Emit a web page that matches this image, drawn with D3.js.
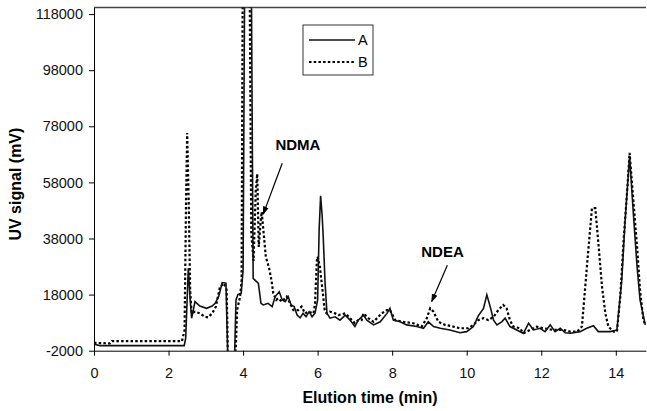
<!DOCTYPE html>
<html>
<head>
<meta charset="utf-8">
<title>UV chromatogram</title>
<script src="https://cdn.jsdelivr.net/npm/d3@7"></script>
<style type="text/css">
body { margin: 0; background: #fff; }
svg { font-family: Arial, "Liberation Sans", sans-serif; }
.axis text { font-size: 14.5px; fill: #111; }
.axis path, .axis line { stroke: #000; stroke-width: 1px; }
.lineA { fill: none; stroke: #111; stroke-width: 1.6px; }
.lineB { fill: none; stroke: #000; stroke-width: 2.2px; stroke-dasharray: 2.5,2.2; }
.title { font-size: 16px; font-weight: bold; fill: #000; }
.peak { font-size: 15px; font-weight: bold; fill: #000; }
</style>
</head>
<body>
<div id="chart"></div>
<script type="text/javascript">
/* chromatogram A (solid) */
var timeA = [0, 0.16, 2.42, 2.46, 2.53, 2.58, 2.62, 2.71, 2.84, 3.02, 3.17, 3.25, 3.35, 3.44, 3.54, 3.60, 3.76, 3.81, 3.86, 3.95, 4.00, 4.07, 4.19, 4.27, 4.41, 4.48, 4.54, 4.67, 4.78, 4.86, 4.97, 5.05, 5.13, 5.21, 5.29, 5.37, 5.45, 5.53, 5.61, 5.69, 5.77, 5.85, 5.93, 6.00, 6.04, 6.08, 6.12, 6.15, 6.20, 6.25, 6.33, 6.47, 6.60, 6.74, 6.87, 7.00, 7.09, 7.23, 7.32, 7.50, 7.68, 7.86, 7.94, 8.03, 8.21, 8.39, 8.66, 8.84, 8.97, 9.11, 9.29, 9.55, 9.82, 10.00, 10.18, 10.31, 10.45, 10.54, 10.63, 10.72, 10.81, 10.94, 11.03, 11.16, 11.34, 11.52, 11.66, 11.79, 11.97, 12.10, 12.24, 12.37, 12.51, 12.64, 12.78, 13.04, 13.22, 13.40, 13.53, 13.85, 14.03, 14.16, 14.25, 14.37, 14.47, 14.57, 14.65, 14.79];
var signalA = [300, -200, -200, 2500, 27400, 16100, 9600, 15500, 13900, 13100, 13900, 14900, 17500, 22300, 22100, -10000, -10000, 16100, 18000, 18500, 26800, 200000, 200000, 23800, 22000, 14900, 14300, 14900, 13700, 17300, 19000, 16100, 15500, 17300, 14300, 13700, 10700, 9700, 11300, 10100, 11900, 10100, 11400, 16100, 41000, 53200, 46400, 38600, 22100, 11400, 9600, 10100, 8900, 10700, 8900, 6600, 8900, 10700, 8900, 7200, 8300, 11300, 13100, 8900, 8300, 7200, 6600, 6000, 8300, 6600, 6000, 5400, 4400, 4800, 6600, 10400, 13100, 17900, 13700, 8900, 7200, 8300, 9600, 6600, 5400, 4200, 7800, 5400, 6000, 4800, 7200, 4800, 6000, 4400, 4200, 4800, 6000, 6900, 4800, 4800, 5400, 23200, 44600, 67400, 47000, 28000, 16100, 7200];

/* chromatogram B (dotted) */
var timeB = [0, 0.43, 0.48, 2.36, 2.43, 2.47, 2.50, 2.54, 2.58, 2.62, 2.71, 2.84, 2.98, 3.06, 3.17, 3.27, 3.38, 3.49, 3.56, 3.60, 3.78, 3.84, 3.92, 3.96, 4.01, 4.14, 4.22, 4.28, 4.34, 4.38, 4.42, 4.47, 4.50, 4.56, 4.61, 4.70, 4.76, 4.81, 4.89, 4.94, 5.04, 5.17, 5.26, 5.35, 5.48, 5.57, 5.66, 5.75, 5.89, 5.93, 5.98, 6.00, 6.06, 6.11, 6.15, 6.19, 6.24, 6.33, 6.47, 6.56, 6.74, 6.87, 7.00, 7.09, 7.18, 7.23, 7.36, 7.50, 7.63, 7.72, 7.86, 7.94, 8.08, 8.30, 8.57, 8.79, 8.93, 9.02, 9.11, 9.24, 9.42, 9.64, 9.82, 10.04, 10.18, 10.31, 10.45, 10.58, 10.72, 10.85, 10.98, 11.07, 11.16, 11.25, 11.43, 11.52, 11.70, 11.88, 12.06, 12.33, 12.60, 12.78, 12.96, 13.09, 13.18, 13.27, 13.36, 13.45, 13.54, 13.63, 13.72, 13.80, 13.94, 14.03, 14.12, 14.21, 14.30, 14.37, 14.47, 14.57, 14.65, 14.74, 14.79];
var signalB = [800, 600, 1400, 1400, 5400, 51700, 75600, 51700, 19600, 11300, 11900, 11300, 10100, 9900, 11300, 13700, 20800, 22000, 19600, -10000, -10000, 12500, 17300, 23200, 200000, 200000, 40000, 30000, 55000, 61000, 35000, 44000, 47500, 38600, 31500, 27300, 23200, 18500, 16100, 16700, 15500, 17300, 14900, 12500, 12500, 13700, 11300, 11900, 11300, 14900, 30300, 31500, 28000, 22000, 17300, 12500, 11300, 11900, 11300, 10700, 11300, 9600, 7800, 8900, 8900, 11300, 9600, 8300, 10100, 11300, 12500, 12500, 8900, 8300, 7800, 6600, 9600, 13100, 11900, 8300, 7200, 6600, 6000, 6000, 7200, 8900, 9600, 8900, 10100, 12500, 14300, 13100, 8900, 6600, 6000, 4200, 5400, 6600, 6000, 5400, 5400, 4800, 4800, 6600, 20800, 35100, 48800, 48800, 35100, 20800, 11300, 6600, 4800, 4800, 17300, 37500, 54100, 68500, 51700, 35100, 19600, 8900, 7200];

var xTicks = [0, 2, 4, 6, 8, 10, 12, 14];
var yTicks = [-2000, 18000, 38000, 58000, 78000, 98000, 118000];
var seriesNames = ["A", "B"];

/* annotations: [label, label x, label y, arrow start x, y, arrow tip x, y] in data units */
var notes = [
  ["NDMA", 5.47, 71400, 5.05, 64800, 4.54, 46700],
  ["NDEA", 9.35, 33200, 9.48, 28500, 9.06, 15500]
];

var W = 647, H = 411;
var margin = {top: 7.5, right: 1, bottom: 60.3, left: 94};
var w = W - margin.left - margin.right,
    h = H - margin.top - margin.bottom;

var x = d3.scaleLinear().domain([0, 14.81]).range([0, w]);
var y = d3.scaleLinear().domain([-2000, 120350]).range([h, 0]);

var svg = d3.select("#chart").append("svg")
  .attr("width", W).attr("height", H);

svg.append("defs").append("marker")
  .attr("id", "arrow")
  .attr("viewBox", "0 0 10 10")
  .attr("refX", 9).attr("refY", 5)
  .attr("markerWidth", 7).attr("markerHeight", 7)
  .attr("orient", "auto")
  .append("path").attr("d", "M0,1.5 L10,5 L0,8.5 Z").attr("fill", "#000");

svg.select("defs").append("clipPath").attr("id", "plot")
  .append("rect").attr("width", w).attr("height", h);

var g = svg.append("g").attr("transform", "translate(" + margin.left + "," + margin.top + ")");

/* top frame line */
g.append("line").attr("x1", 0).attr("x2", w).attr("y1", 0).attr("y2", 0)
  .attr("stroke", "#444").attr("stroke-width", 1.3);

var line = d3.line().x(function(d) { return x(d[0]); }).y(function(d) { return y(d[1]); });

var dataA = timeA.map(function(t, i) { return [t, signalA[i]]; });
var dataB = timeB.map(function(t, i) { return [t, signalB[i]]; });

var plot = g.append("g").attr("clip-path", "url(#plot)");
plot.append("path").attr("class", "lineB").attr("d", line(dataB));
plot.append("path").attr("class", "lineA").attr("d", line(dataA));

g.append("g").attr("class", "axis")
  .attr("transform", "translate(0," + h + ")")
  .call(d3.axisBottom(x).tickValues(xTicks).tickSize(5).tickSizeOuter(0).tickPadding(12));

g.append("g").attr("class", "axis")
  .call(d3.axisLeft(y).tickValues(yTicks).tickSize(5).tickSizeOuter(0).tickPadding(6)
    .tickFormat(function(d) { return String(d); }));

g.append("text").attr("class", "title")
  .attr("x", w / 2).attr("y", h + 52)
  .attr("text-anchor", "middle").text("Elution time (min)");

g.append("text").attr("class", "title")
  .attr("transform", "translate(" + (-73) + "," + (h / 2 + 5) + ") rotate(-90)")
  .attr("text-anchor", "middle").text("UV signal (mV)");

/* legend */
var leg = g.append("g").attr("transform", "translate(209,17.5)");
leg.append("rect").attr("width", 70).attr("height", 50)
  .attr("fill", "#fff").attr("stroke", "#333").attr("stroke-width", 1);
seriesNames.forEach(function(name, i) {
  var ly = 15 + i * 22;
  leg.append("line").attr("class", i === 0 ? "lineA" : "lineB")
    .attr("x1", 6).attr("x2", 52).attr("y1", ly).attr("y2", ly);
  leg.append("text").attr("x", 55).attr("y", ly + 5)
    .style("font-size", "14.5px").text(name);
});

/* peak labels */
notes.forEach(function(n) {
  g.append("text").attr("class", "peak")
    .attr("x", x(n[1])).attr("y", y(n[2]) + 5.5)
    .attr("text-anchor", "middle").text(n[0]);
  g.append("line")
    .attr("x1", x(n[3])).attr("y1", y(n[4]))
    .attr("x2", x(n[5])).attr("y2", y(n[6]))
    .attr("stroke", "#000").attr("stroke-width", 1.2)
    .attr("marker-end", "url(#arrow)");
});
</script>
</body>
</html>
